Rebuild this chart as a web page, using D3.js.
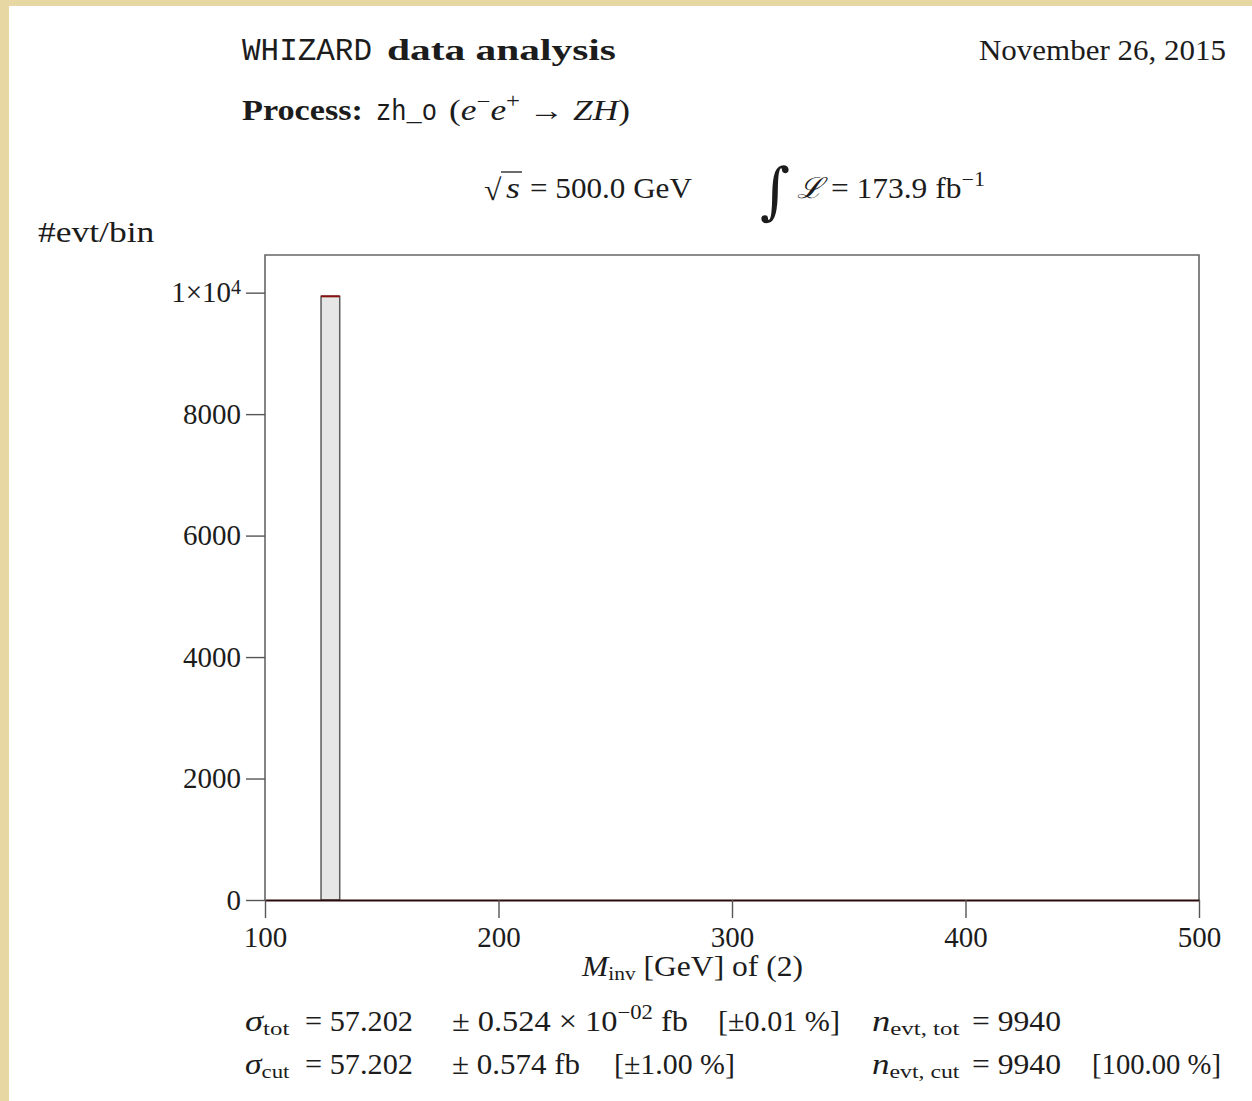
<!DOCTYPE html>
<html>
<head>
<meta charset="utf-8">
<script src="https://cdn.jsdelivr.net/npm/d3@7"></script>
<style>
  body { margin: 0; background: #e6d7a3; }
  svg { display: block; }
</style>
</head>
<body>
<div id="chart"></div>
<script>
// Histogram data: bin edges (GeV) and counts per bin
const binEdges = [100, 108, 116, 124, 132, 140, 148, 156, 164, 172, 180, 188, 196, 204, 212, 220,
  228, 236, 244, 252, 260, 268, 276, 284, 292, 300, 308, 316, 324, 332, 340, 348, 356, 364,
  372, 380, 388, 396, 404, 412, 420, 428, 436, 444, 452, 460, 468, 476, 484, 492, 500];
const counts = [0, 0, 0, 9940, 0, 0, 0, 0, 0, 0, 0, 0, 0, 0, 0, 0, 0, 0, 0, 0, 0, 0, 0, 0, 0,
  0, 0, 0, 0, 0, 0, 0, 0, 0, 0, 0, 0, 0, 0, 0, 0, 0, 0, 0, 0, 0, 0, 0, 0, 0];
const xTicks = [100, 200, 300, 400, 500];
const yTicks = [0, 2000, 4000, 6000, 8000, 10000];
const xDomain = [100, 500];
const yDomain = [0, 10620];

const W = 1252, H = 1101;
const margin = { top: 255, right: 53, bottom: 201, left: 265 };
const plotW = W - margin.left - margin.right;
const plotH = H - margin.top - margin.bottom;

const SERIF = '"Liberation Serif", "DejaVu Serif", serif';
const MONO = '"Liberation Mono", "DejaVu Sans Mono", monospace';
const INK = '#1c1c1c';

const svg = d3.select('#chart').append('svg')
    .attr('width', W)
    .attr('height', H);

svg.append('rect').attr('width', W).attr('height', H).attr('fill', '#e6d7a3');
svg.append('rect').attr('x', 9).attr('y', 6).attr('width', W - 9).attr('height', H - 6).attr('fill', '#ffffff');

// put a piece of mixed text (roman, italic, bold, typewriter, sub/superscript)
function put(x, y, parts, size, width) {
    const t = svg.append('text')
        .attr('fill', INK)
        .attr('font-size', size)
        .attr('font-family', SERIF)
        .style('white-space', 'pre');
    let shift = 0;
    parts.forEach(([str, st]) => {
        const ts = t.append('tspan').text(str);
        let target = 0;
        if (st.includes('sub')) { target = 0.15 * size; ts.attr('font-size', size * 0.68); }
        if (st.includes('sup')) { target = -0.4 * size; ts.attr('font-size', size * 0.7); }
        if (st.includes('it')) ts.attr('font-style', 'italic');
        if (st.includes('bf')) ts.attr('font-weight', 'bold');
        if (st.includes('tt')) ts.attr('font-family', MONO);
        ts.attr('dy', target - shift);
        shift = target;
    });
    if (width) {
        const bb = t.node().getBBox();
        t.attr('transform', `translate(${x - bb.x * width / bb.width},${y}) scale(${width / bb.width},1)`);
    } else {
        t.attr('transform', `translate(${x},${y})`);
    }
    return t;
}

// header
put(242, 60, [['WHIZARD', 'tt']], 31, 130);
put(387, 60, [['data analysis', 'bf']], 30, 229);
put(979, 60, [['November 26, 2015', 'rm']], 29, 247);

put(242, 120, [['Process:', 'bf']], 29, 121);
put(376, 120, [['zh_o', 'tt']], 30, 61);
put(449, 120, [['(', 'rm'], ['e', 'it'], ['−', 'sup'], ['e', 'it'], ['+', 'sup'], [' → ', 'rm'], ['ZH', 'it'], [')', 'rm']], 29, 181);

// sqrt(s)
put(484, 200, [['√', 'rm']], 30, 18);
svg.append('line').attr('x1', 501).attr('x2', 522).attr('y1', 172).attr('y2', 172)
    .attr('stroke', INK).attr('stroke-width', 1.3);
put(506, 198, [['s', 'it']], 29, 14);
put(530, 198, [['= 500.0 GeV', 'rm']], 29, 162);

// integral sign, fitted to its box
const integ = svg.append('text').attr('fill', INK).attr('font-family', '"DejaVu Serif", serif')
    .attr('font-size', 60).attr('font-style', 'italic').text('∫');
{
    const bb = integ.node().getBBox();
    const sx = 30 / bb.width, sy = 72 / bb.height;
    integ.attr('transform', `translate(${760 - bb.x * sx},${154 - bb.y * sy}) scale(${sx},${sy})`);
}
put(797, 198, [['ℒ', 'it'], [' = 173.9 fb', 'rm'], ['−1', 'sup']], 29, 188);

// y label
put(38, 242, [['#evt/bin', 'rm']], 29, 117);

// plot
const x = d3.scaleLinear().domain(xDomain).range([0, plotW]);
const y = d3.scaleLinear().domain(yDomain).range([plotH, 0]);

const chart = svg.append('g').attr('transform', `translate(${margin.left},${margin.top})`);

const bins = counts.map((c, i) => ({ x0: binEdges[i], x1: binEdges[i + 1], c }));

chart.selectAll('.bar')
    .data(bins.filter(d => d.c > 0))
    .enter().append('rect')
    .attr('class', 'bar')
    .attr('x', d => x(d.x0))
    .attr('width', d => x(d.x1) - x(d.x0))
    .attr('y', d => y(d.c))
    .attr('height', d => plotH - y(d.c))
    .attr('fill', '#e6e6e6')
    .attr('stroke', '#5c5c5c')
    .attr('stroke-width', 1.5);

chart.selectAll('.bartop')
    .data(bins.filter(d => d.c > 0))
    .enter().append('line')
    .attr('class', 'bartop')
    .attr('x1', d => x(d.x0))
    .attr('x2', d => x(d.x1))
    .attr('y1', d => y(d.c))
    .attr('y2', d => y(d.c))
    .attr('stroke', '#8a1010')
    .attr('stroke-width', 2);

// frame
chart.append('path')
    .attr('d', `M0,${plotH}V0H${plotW}V${plotH}`)
    .attr('fill', 'none')
    .attr('stroke', '#666666')
    .attr('stroke-width', 1.6);

const yAxis = chart.append('g')
    .call(d3.axisLeft(y).tickValues(yTicks).tickSize(19).tickPadding(5)
        .tickFormat(d => d === 10000 ? '' : d));
yAxis.select('.domain').remove();
yAxis.selectAll('line').attr('stroke', '#555').attr('stroke-width', 1.4);
yAxis.selectAll('text').attr('font-family', SERIF).attr('font-size', 29).attr('fill', INK);
yAxis.selectAll('.tick').filter(d => d === 10000).select('text')
    .each(function () {
        const t = d3.select(this);
        t.append('tspan').text('1×10');
        t.append('tspan').text('4').attr('font-size', 20).attr('dy', '-0.4em');
    });

const xAxis = chart.append('g')
    .attr('transform', `translate(0,${plotH})`)
    .call(d3.axisBottom(x).tickValues(xTicks).tickSize(18).tickSizeOuter(0).tickPadding(8));
xAxis.select('.domain').attr('stroke', '#2a0a0a').attr('stroke-width', 2);
xAxis.selectAll('line').attr('stroke', '#555').attr('stroke-width', 1.4);
xAxis.selectAll('text').attr('font-family', SERIF).attr('font-size', 29).attr('fill', INK);

// x label
put(581, 976, [['M', 'it'], ['inv', 'sub'], [' [GeV] of (2)', 'rm']], 29, 222);

// statistics
put(245, 1031, [['σ', 'it'], ['tot', 'sub']], 29, 45);
put(305, 1031, [['= 57.202', 'rm']], 29, 108);
put(452, 1031, [['± 0.524 × 10', 'rm'], ['−02', 'sup'], [' fb', 'rm']], 29, 236);
put(718, 1031, [['[±0.01 %]', 'rm']], 29, 122);
put(872, 1031, [['n', 'it'], ['evt, tot', 'sub']], 29, 88);
put(972, 1031, [['= 9940', 'rm']], 29, 89);

put(245, 1074, [['σ', 'it'], ['cut', 'sub']], 29, 45);
put(305, 1074, [['= 57.202', 'rm']], 29, 108);
put(452, 1074, [['± 0.574 fb', 'rm']], 29, 128);
put(614, 1074, [['[±1.00 %]', 'rm']], 29, 121);
put(872, 1074, [['n', 'it'], ['evt, cut', 'sub']], 29, 88);
put(972, 1074, [['= 9940', 'rm']], 29, 89);
put(1092, 1074, [['[100.00 %]', 'rm']], 29, 129);
</script>
</body>
</html>
